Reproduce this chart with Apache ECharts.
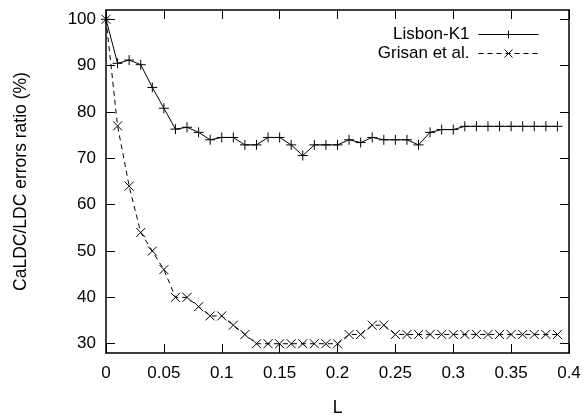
<!DOCTYPE html>
<html>
<head>
<meta charset="utf-8">
<script src="https://cdn.jsdelivr.net/npm/echarts@6/dist/echarts.min.js"></script>
<style>
html,body{margin:0;padding:0;background:#fff;}
#chart{width:587px;height:416px;}
</style>
</head>
<body>
<div id="chart"></div>
<script>
// L values (x axis)
var lValues = [0,0.01,0.02,0.03,0.04,0.05,0.06,0.07,0.08,0.09,0.10,0.11,0.12,0.13,0.14,0.15,0.16,0.17,0.18,0.19,
  0.20,0.21,0.22,0.23,0.24,0.25,0.26,0.27,0.28,0.29,0.30,0.31,0.32,0.33,0.34,0.35,0.36,0.37,0.38,0.39];
var lisbonK1 = [100,90.5,91.2,90.2,85.3,80.8,76.3,76.7,75.6,74.0,74.5,74.5,72.9,72.9,74.5,74.5,72.9,70.6,72.9,72.9,
  72.9,74.0,73.4,74.5,74.0,74.0,74.0,72.9,75.6,76.2,76.2,76.9,76.9,76.9,76.9,76.9,76.9,76.9,76.9,76.9];
var grisan = [100,77,64,54,50,46,40,40,38,36,36,34,32,30,30,30,30,30,30,30,
  30,32,32,34,34,32,32,32,32,32,32,32,32,32,32,32,32,32,32,32];
var yTicks = [30,40,50,60,70,80,90,100];
var xTicks = [0,0.05,0.1,0.15,0.2,0.25,0.3,0.35,0.4];
var seriesNames = ['Lisbon-K1','Grisan et al.'];
var yName = 'CaLDC/LDC errors ratio (%)';
var xName = 'L';

function pairs(xs, ys){ return xs.map(function(x,i){ return [x, ys[i]]; }); }

var font = 'Liberation Sans, Arial, Helvetica, sans-serif';
var chart = echarts.init(document.getElementById('chart'), null, {renderer:'canvas'});
var plusSym = 'path://M0,5L10,5M5,0L5,10';
var crossSym = 'path://M0,0L10,10M10,0L0,10';
var tickStyle = {show:true, inside:true, length:9, lineStyle:{color:'#000', width:1}};
chart.setOption({
  animation:false,
  backgroundColor:'#fff',
  grid:{left:106, right:18, top:10, bottom:63, containLabel:false, outerBoundsMode:'none'},
  legend:{
    orient:'vertical', right:43, top:21, align:'right',
    itemWidth:60, itemHeight:10, itemGap:2,
    lineStyle:{width:1},
    itemStyle:{borderWidth:1},
    textStyle:{fontFamily:font, fontSize:17, color:'#000', padding:[0,4,0,0]},
    data:seriesNames
  },
  xAxis:[{
    type:'value', min:0, max:0.4, interval:0.05,
    name:xName, nameLocation:'middle', nameGap:46,
    nameTextStyle:{fontFamily:font, fontSize:17.5, color:'#000'},
    axisLine:{show:true, onZero:false, lineStyle:{color:'#000', width:1.5}},
    axisTick:tickStyle,
    axisLabel:{fontFamily:font, fontSize:17, color:'#000', margin:12,
      customValues:xTicks,
      formatter:function(v){ return String(Math.round(v*100)/100); }},
    splitLine:{show:false}
  },{
    type:'value', min:0, max:0.4, interval:0.05, position:'top',
    axisLine:{show:true, onZero:false, lineStyle:{color:'#000', width:1.5}},
    axisTick:tickStyle, axisLabel:{show:false}, splitLine:{show:false}
  }],
  yAxis:[{
    type:'value', min:28, max:102,
    name:yName, nameLocation:'middle', nameGap:76,
    nameTextStyle:{fontFamily:font, fontSize:17.5, color:'#000'},
    axisLine:{show:true, onZero:false, lineStyle:{color:'#000', width:1.5}},
    axisTick:Object.assign({customValues:yTicks}, tickStyle),
    axisLabel:{fontFamily:font, fontSize:17, color:'#000', margin:10, customValues:yTicks},
    splitLine:{show:false}
  },{
    type:'value', min:28, max:102, position:'right',
    axisLine:{show:true, onZero:false, lineStyle:{color:'#000', width:1.5}},
    axisTick:Object.assign({customValues:yTicks}, tickStyle),
    axisLabel:{show:false}, splitLine:{show:false}
  }],
  series:[{
    name:seriesNames[0], type:'line', data:pairs(lValues, lisbonK1),
    symbol:plusSym, symbolSize:10, showAllSymbol:true,
    lineStyle:{color:'#000', width:1, type:'solid'},
    itemStyle:{color:'#000', borderColor:'#000', borderWidth:1},
    emphasis:{disabled:true}
  },{
    name:seriesNames[1], type:'line', data:pairs(lValues, grisan),
    symbol:crossSym, symbolSize:9, showAllSymbol:true,
    lineStyle:{color:'#000', width:1, type:[5,4]},
    itemStyle:{color:'#000', borderColor:'#000', borderWidth:1},
    emphasis:{disabled:true}
  }]
});
</script>
</body>
</html>
